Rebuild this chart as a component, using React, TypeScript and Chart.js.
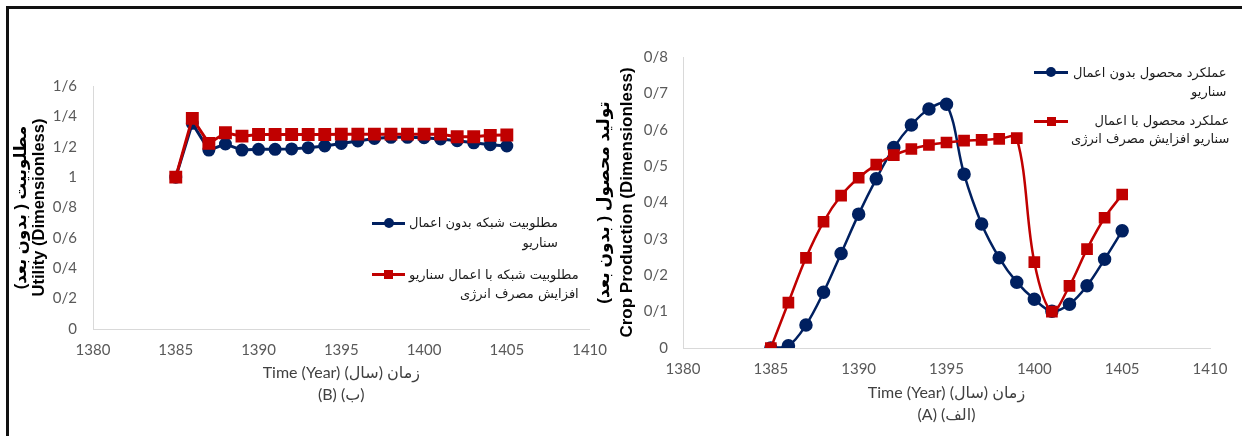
import React, { useEffect, useRef } from 'react';
import { Chart, registerables } from 'chart.js';

Chart.register(...registerables);

// ---------- data ----------
const years = [1385, 1386, 1387, 1388, 1389, 1390, 1391, 1392, 1393, 1394, 1395, 1396, 1397, 1398, 1399, 1400, 1401, 1402, 1403, 1404, 1405];

// Chart (B): utility
const utilityBase = [1.0, 1.354, 1.178, 1.218, 1.178, 1.183, 1.183, 1.186, 1.194, 1.205, 1.222, 1.238, 1.255, 1.262, 1.262, 1.26, 1.251, 1.24, 1.226, 1.213, 1.205];
const utilityScenario = [1.0, 1.387, 1.222, 1.292, 1.27, 1.281, 1.281, 1.281, 1.281, 1.281, 1.283, 1.283, 1.283, 1.283, 1.283, 1.283, 1.283, 1.266, 1.266, 1.275, 1.277];

// Chart (A): crop production
const cropBase = [0, 0.006, 0.063, 0.153, 0.26, 0.368, 0.465, 0.551, 0.613, 0.657, 0.67, 0.478, 0.341, 0.248, 0.181, 0.134, 0.101, 0.12, 0.171, 0.244, 0.322];
const cropScenario = [0, 0.125, 0.248, 0.347, 0.419, 0.468, 0.504, 0.53, 0.547, 0.558, 0.565, 0.57, 0.572, 0.575, 0.577, 0.236, 0.1, 0.171, 0.272, 0.358, 0.422];

const xTickValues = [1380, 1385, 1390, 1395, 1400, 1405, 1410];
const xTickLabels = ['1380', '1385', '1390', '1395', '1400', '1405', '1410'];

const utilityTickValues = [0, 0.2, 0.4, 0.6, 0.8, 1, 1.2, 1.4, 1.6];
const utilityTickLabels = ['0', '0/2', '0/4', '0/6', '0/8', '1', '1/2', '1/4', '1/6'];

const cropTickValues = [0, 0.1, 0.2, 0.3, 0.4, 0.5, 0.6, 0.7, 0.8];
const cropTickLabels = ['0', '0/1', '0/2', '0/3', '0/4', '0/5', '0/6', '0/7', '0/8'];

const utilityYTitle = ['مطلوبیت ( بدون بعد)', 'Utility (Dimensionless)'];
const cropYTitle = ['تولید محصول ( بدون بعد)', 'Crop Production (Dimensionless)'];
const utilityXTitle = ['Time (Year) (سال) زمان', '(B) (ب)'];
const cropXTitle = ['Time (Year) (سال) زمان', '(A) (الف)'];

const utilityLegend = [
  ['مطلوبیت شبکه بدون اعمال', 'سناریو'],
  ['مطلوبیت شبکه با اعمال سناریو', 'افزایش مصرف انرژی'],
];
const cropLegend = [
  ['عملکرد محصول بدون اعمال', 'سناریو'],
  ['عملکرد محصول با اعمال', 'سناریو افزایش مصرف انرژی'],
];

// ---------- styles ----------
const BLUE = '#002060';
const RED = '#C00000';
const TICK_FONT = "Lato, 'DejaVu Sans', sans-serif";
const TITLE_FONT = "'Liberation Sans', 'DejaVu Sans', sans-serif";
const ARABIC_FONT = "'DejaVu Sans', sans-serif";

type Geo = {
  padTop: number;
  padRight: number;
  yWidth: number;
  xHeight: number;
  yTickPad: number;
  xTickPad: number;
  yTitleSize: number;
  yTitleLH: number;
  yTitlePad: number;
  xTitleLH: number;
  xTitlePadBottom: number;
  tension: number;
  lineWidth: number;
  circleR: number;
  rectR: number;
};

function makeConfig(
  base: number[],
  scen: number[],
  yMax: number,
  yTickValues: number[],
  yTickLabels: string[],
  yTitle: string[],
  xTitle: string[],
  g: Geo
): any {
  return {
    type: 'line',
    data: {
      datasets: [
        {
          label: 'base',
          data: years.map((x, i) => ({ x, y: base[i] })),
          borderColor: BLUE,
          backgroundColor: BLUE,
          pointBackgroundColor: BLUE,
          pointBorderColor: BLUE,
          pointStyle: 'circle',
          pointRadius: g.circleR,
          borderWidth: g.lineWidth,
          tension: g.tension,
          order: 2,
        },
        {
          label: 'scenario',
          data: years.map((x, i) => ({ x, y: scen[i] })),
          borderColor: RED,
          backgroundColor: RED,
          pointBackgroundColor: RED,
          pointBorderColor: RED,
          pointStyle: 'rect',
          pointRadius: g.rectR,
          borderWidth: g.lineWidth,
          tension: g.tension,
          order: 1,
        },
      ],
    },
    options: {
      animation: false,
      responsive: false,
      devicePixelRatio: 1,
      layout: { padding: { top: g.padTop, right: g.padRight, left: 0, bottom: 0 } },
      plugins: { legend: { display: false }, tooltip: { enabled: false } },
      elements: { point: { borderWidth: 1 } },
      scales: {
        x: {
          type: 'linear',
          min: 1380,
          max: 1410,
          afterBuildTicks: (s: any) => {
            s.ticks = xTickValues.map((v) => ({ value: v }));
          },
          afterFit: (s: any) => {
            s.height = g.xHeight;
          },
          ticks: {
            callback: (_v: any, i: number) => xTickLabels[i],
            font: { family: TICK_FONT, size: 15 },
            color: '#595959',
            padding: g.xTickPad,
            maxRotation: 0,
          },
          grid: { display: false, drawTicks: false },
          border: { display: true, color: '#D9D9D9', width: 1 },
          title: {
            display: true,
            text: xTitle,
            color: '#404040',
            font: { family: TICK_FONT, size: 16, lineHeight: g.xTitleLH / 16 },
            padding: { top: 0, bottom: g.xTitlePadBottom },
          },
        },
        y: {
          type: 'linear',
          min: 0,
          max: yMax,
          afterBuildTicks: (s: any) => {
            s.ticks = yTickValues.map((v) => ({ value: v }));
          },
          afterFit: (s: any) => {
            s.width = g.yWidth;
          },
          ticks: {
            callback: (_v: any, i: number) => yTickLabels[i],
            font: { family: TICK_FONT, size: 15 },
            color: '#595959',
            padding: g.yTickPad,
          },
          grid: { display: false, drawTicks: false },
          border: { display: true, color: '#D9D9D9', width: 1 },
          title: {
            display: true,
            text: yTitle,
            color: '#000000',
            font: { family: TITLE_FONT, size: g.yTitleSize, weight: 'bold', lineHeight: g.yTitleLH / g.yTitleSize },
            padding: { top: g.yTitlePad, bottom: 0 },
          },
        },
      },
    },
  };
}

function ChartCanvas({ config, left, top, width, height }: any) {
  const ref = useRef<HTMLCanvasElement | null>(null);
  useEffect(() => {
    if (!ref.current) return;
    const chart = new Chart(ref.current, config);
    return () => chart.destroy();
  }, []);
  return (
    <canvas
      ref={ref}
      width={width}
      height={height}
      style={{ position: 'absolute', left, top, width, height }}
    />
  );
}

function LegendEntry({ x1, x2, y, color, shape, textLeft, lines, lh, fontSize }: any) {
  const cx = (x1 + x2) / 2;
  const size = shape === 'circle' ? 10 : 9;
  return (
    <>
      <div style={{ position: 'absolute', left: x1, top: y - 1.5, width: x2 - x1, height: 3, background: color }} />
      <div
        style={{
          position: 'absolute',
          left: cx - size / 2,
          top: y - size / 2,
          width: size,
          height: size,
          background: color,
          borderRadius: shape === 'circle' ? '50%' : 0,
        }}
      />
      <div
        dir="rtl"
        style={{
          position: 'absolute',
          left: textLeft,
          top: y - lh / 2,
          textAlign: 'right',
          whiteSpace: 'nowrap',
          fontFamily: ARABIC_FONT,
          fontSize,
          lineHeight: lh + 'px',
          color: '#1a1a1a',
        }}
      >
        {lines.map((l: string, i: number) => (
          <div key={i}>{l}</div>
        ))}
      </div>
    </>
  );
}

const geoB: Geo = {
  padTop: 77,
  padRight: 26,
  yWidth: 84,
  xHeight: 107,
  yTickPad: 16,
  xTickPad: 12,
  yTitleSize: 16.5,
  yTitleLH: 17.5,
  yTitlePad: 4,
  xTitleLH: 22,
  xTitlePadBottom: 30,
  tension: 0,
  lineWidth: 3,
  circleR: 5,
  rectR: 7,
};

const geoA: Geo = {
  padTop: 48,
  padRight: 32,
  yWidth: 95,
  xHeight: 88,
  yTickPad: 15,
  xTickPad: 12,
  yTitleSize: 17,
  yTitleLH: 23,
  yTitlePad: 5,
  xTitleLH: 22,
  xTitlePadBottom: 10,
  tension: 0.35,
  lineWidth: 2.5,
  circleR: 5.5,
  rectR: 6.5,
};

export default function App() {
  const cfgB = makeConfig(utilityBase, utilityScenario, 1.6, utilityTickValues, utilityTickLabels, utilityYTitle, utilityXTitle, geoB);
  const cfgA = makeConfig(cropBase, cropScenario, 0.8, cropTickValues, cropTickLabels, cropYTitle, cropXTitle, geoA);
  return (
    <div style={{ position: 'fixed', left: 0, top: 0, width: 1242, height: 436, background: '#fff', overflow: 'hidden' }}>
      <div
        style={{
          position: 'absolute',
          left: 6,
          top: 6,
          width: 1300,
          height: 500,
          borderTop: '3px solid #111',
          borderLeft: '3px solid #111',
        }}
      />
      <ChartCanvas config={cfgB} left={9} top={9} width={610} height={427} />
      <ChartCanvas config={cfgA} left={588} top={9} width={654} height={427} />
      <LegendEntry x1={372} x2={405} y={223} color={BLUE} shape="circle" textLeft={409} lines={utilityLegend[0]} lh={20} fontSize={13} />
      <LegendEntry x1={372} x2={405} y={274} color={RED} shape="rect" textLeft={409} lines={utilityLegend[1]} lh={19} fontSize={13} />
      <LegendEntry x1={1034} x2={1068} y={72} color={BLUE} shape="circle" textLeft={1073} lines={cropLegend[0]} lh={19} fontSize={13} />
      <LegendEntry x1={1034} x2={1068} y={121} color={RED} shape="rect" textLeft={1071} lines={cropLegend[1]} lh={18} fontSize={13} />
    </div>
  );
}
